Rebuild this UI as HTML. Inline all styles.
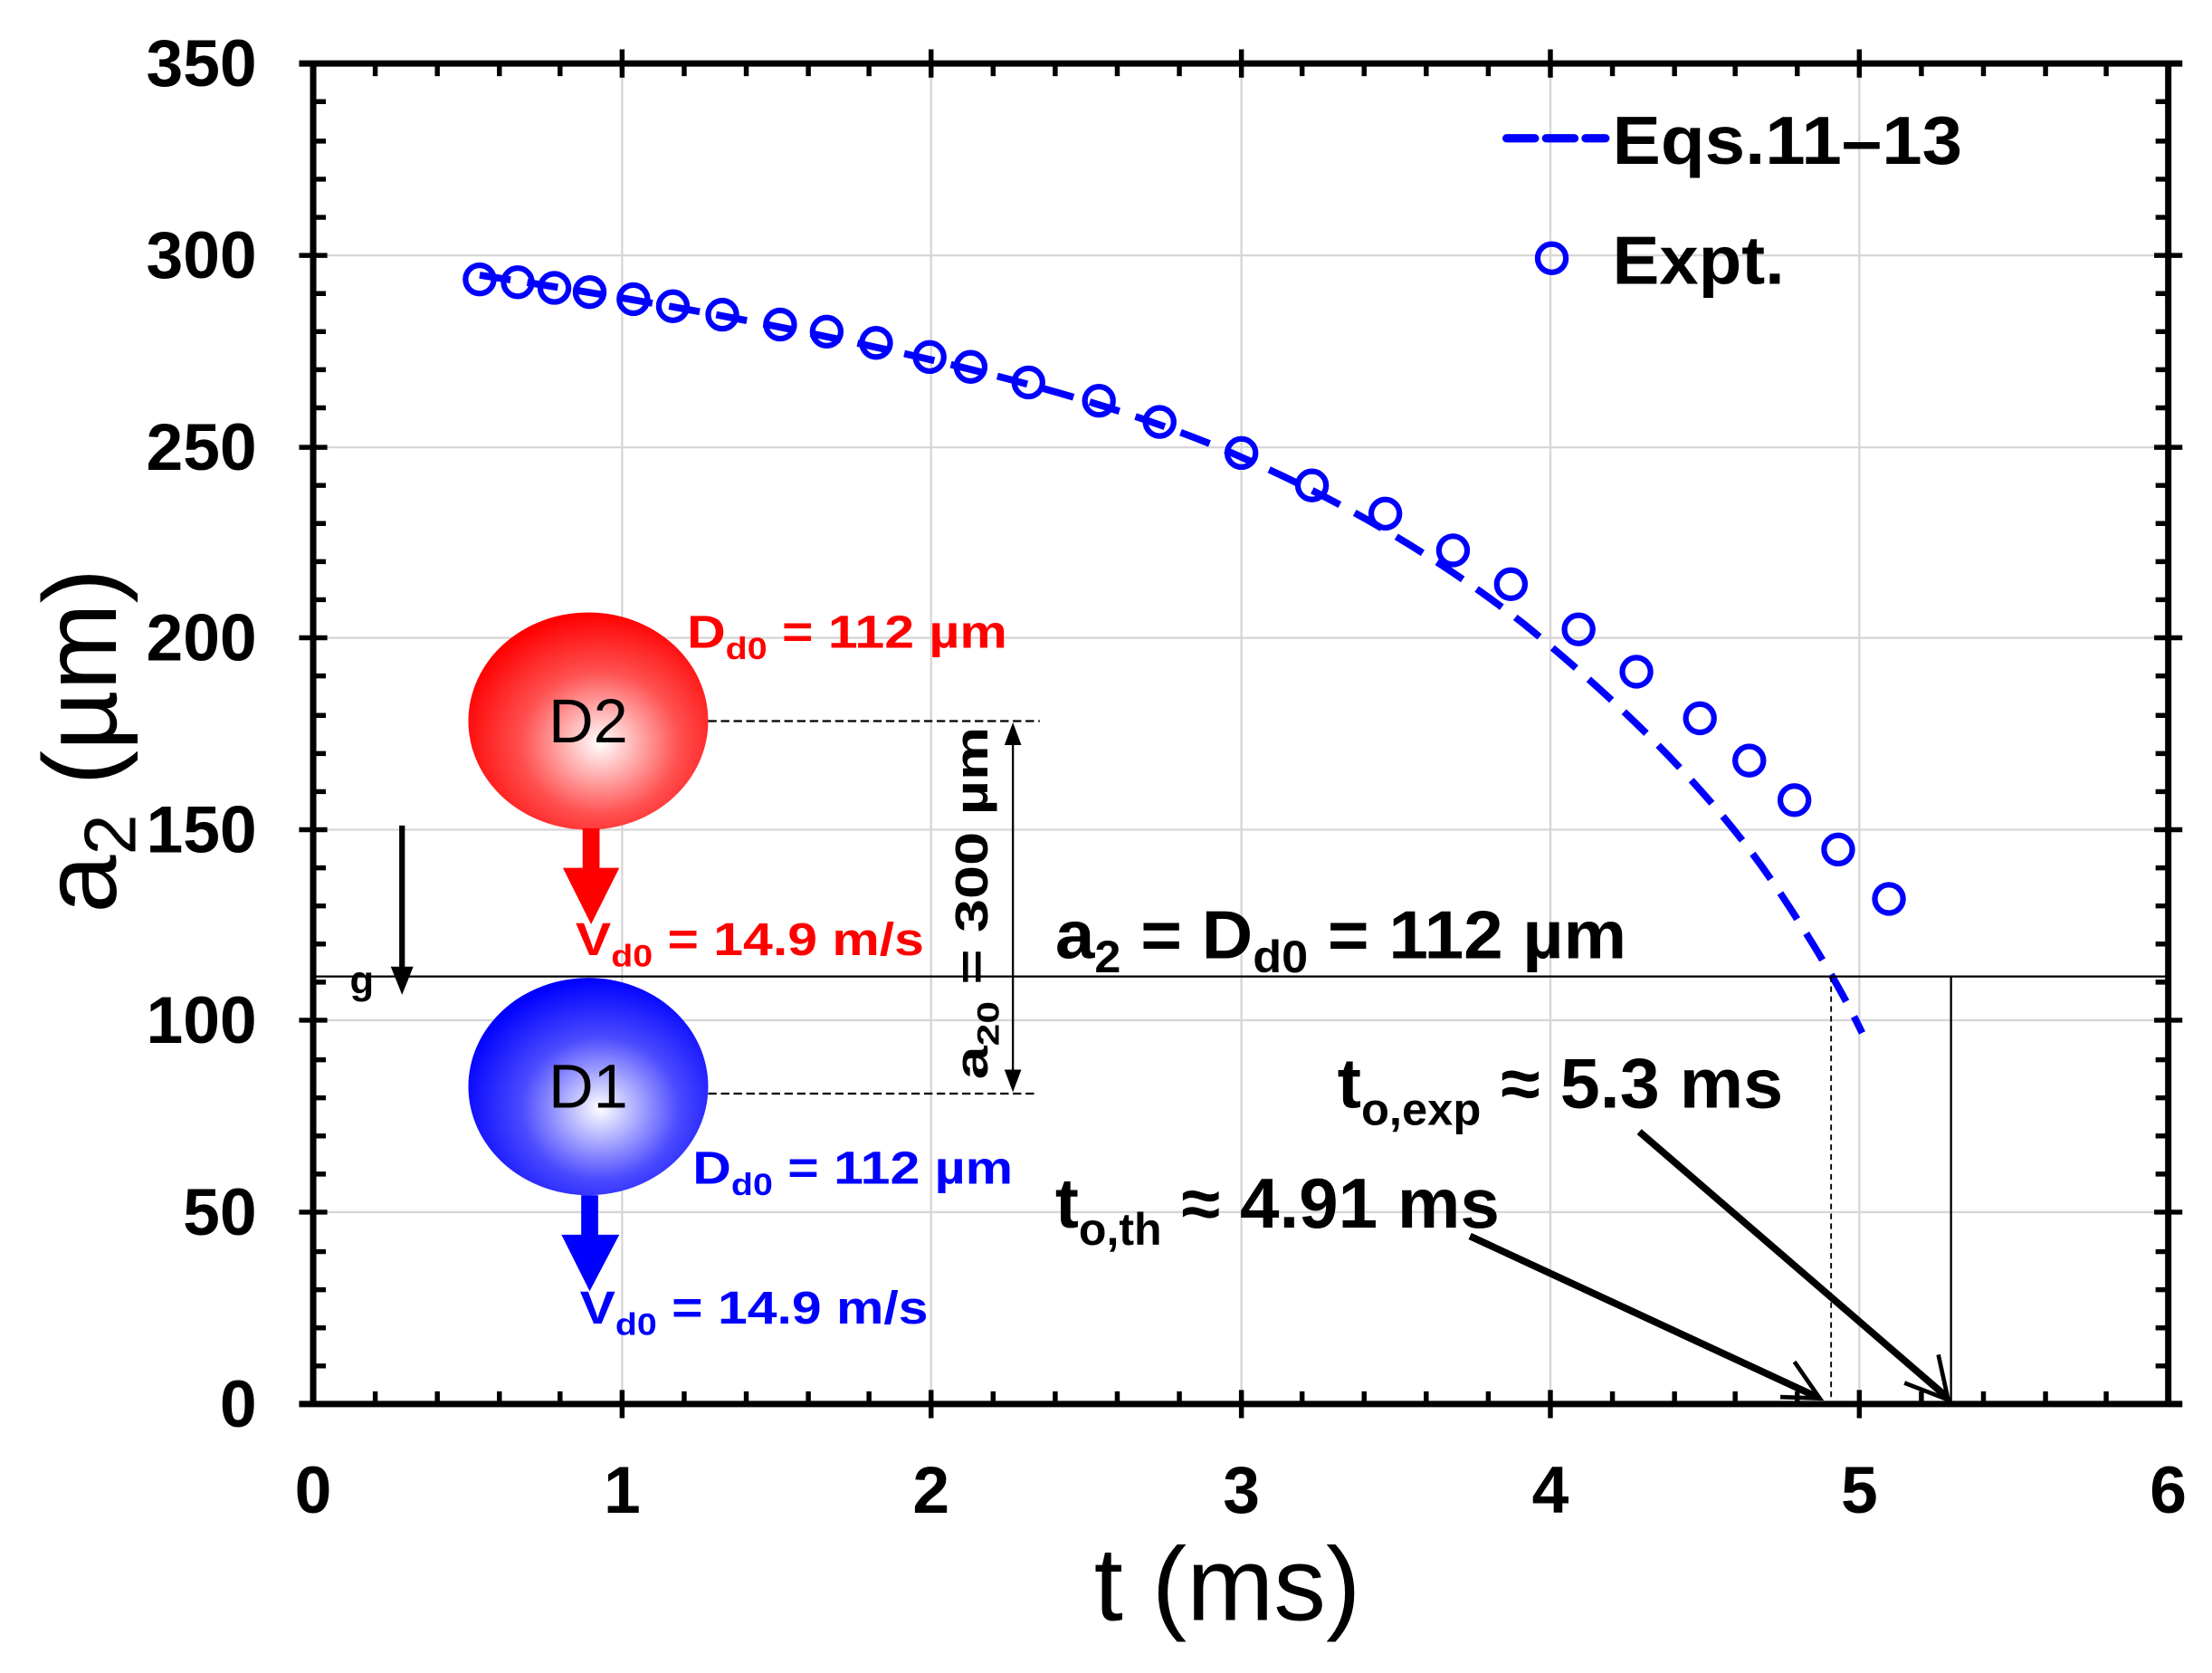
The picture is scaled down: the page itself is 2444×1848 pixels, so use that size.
<!DOCTYPE html>
<html><head><meta charset="utf-8"><style>html,body{margin:0;padding:0;background:#fff}svg{display:block}</style></head>
<body>
<svg width="2444" height="1848" viewBox="0 0 1568 1185.6" preserveAspectRatio="none" xmlns="http://www.w3.org/2000/svg" font-family="Liberation Sans, Arial, sans-serif">
<defs>
<radialGradient id="rg" cx="0.55" cy="0.6" r="0.6"><stop offset="0" stop-color="#fff"/><stop offset="0.55" stop-color="#ff5050"/><stop offset="1" stop-color="#ff0000"/></radialGradient>
<radialGradient id="bg" cx="0.55" cy="0.6" r="0.6"><stop offset="0" stop-color="#fff"/><stop offset="0.55" stop-color="#4a4aff"/><stop offset="1" stop-color="#0000ff"/></radialGradient>
</defs>
<g stroke="#d6d6d6" stroke-width="1.5">
<line x1="441" y1="45" x2="441" y2="995"/><line x1="660" y1="45" x2="660" y2="995"/><line x1="880" y1="45" x2="880" y2="995"/><line x1="1099" y1="45" x2="1099" y2="995"/><line x1="1318" y1="45" x2="1318" y2="995"/>
<line x1="222" y1="859" x2="1537" y2="859"/><line x1="222" y1="723" x2="1537" y2="723"/><line x1="222" y1="588" x2="1537" y2="588"/><line x1="222" y1="452" x2="1537" y2="452"/><line x1="222" y1="317" x2="1537" y2="317"/><line x1="222" y1="181" x2="1537" y2="181"/>
</g>
<g stroke="#000" stroke-width="3.5" fill="none">
<path d="M222 995V45 M1537 995V45 M212 45H1547 M212 995H1547" stroke-width="4.5"/>
<path d="M222 968h9M222 941h9M222 914h9M222 887h9M222 832h9M222 805h9M222 778h9M222 751h9M222 696h9M222 669h9M222 642h9M222 615h9M222 561h9M222 534h9M222 507h9M222 479h9M222 425h9M222 398h9M222 371h9M222 344h9M222 289h9M222 262h9M222 235h9M222 208h9M222 154h9M222 127h9M222 100h9M222 72h9"/>
<path d="M1537 968h-9M1537 941h-9M1537 914h-9M1537 887h-9M1537 832h-9M1537 805h-9M1537 778h-9M1537 751h-9M1537 696h-9M1537 669h-9M1537 642h-9M1537 615h-9M1537 561h-9M1537 534h-9M1537 507h-9M1537 479h-9M1537 425h-9M1537 398h-9M1537 371h-9M1537 344h-9M1537 289h-9M1537 262h-9M1537 235h-9M1537 208h-9M1537 154h-9M1537 127h-9M1537 100h-9M1537 72h-9"/>
<path d="M212 859h20M212 723h20M212 588h20M212 452h20M212 317h20M212 181h20M1527 859h20M1527 723h20M1527 588h20M1527 452h20M1527 317h20M1527 181h20"/>
<path d="M266 995v-9M310 995v-9M354 995v-9M397 995v-9M485 995v-9M529 995v-9M573 995v-9M616 995v-9M704 995v-9M748 995v-9M792 995v-9M836 995v-9M923 995v-9M967 995v-9M1011 995v-9M1055 995v-9M1143 995v-9M1187 995v-9M1230 995v-9M1274 995v-9M1362 995v-9M1406 995v-9M1450 995v-9M1493 995v-9"/>
<path d="M266 45v9M310 45v9M354 45v9M397 45v9M485 45v9M529 45v9M573 45v9M616 45v9M704 45v9M748 45v9M792 45v9M836 45v9M923 45v9M967 45v9M1011 45v9M1055 45v9M1143 45v9M1187 45v9M1230 45v9M1274 45v9M1362 45v9M1406 45v9M1450 45v9M1493 45v9"/>
<path d="M441 985v20M660 985v20M880 985v20M1099 985v20M1318 985v20M441 35v20M660 35v20M880 35v20M1099 35v20M1318 35v20"/>
</g>
<g font-size="47" font-weight="bold" text-anchor="end">
<text x="182" y="1011">0</text><text x="182" y="875">50</text><text x="182" y="739">100</text><text x="182" y="604">150</text><text x="182" y="468">200</text><text x="182" y="333">250</text><text x="182" y="197">300</text><text x="182" y="61">350</text>
</g>
<g font-size="47" font-weight="bold" text-anchor="middle">
<text x="222" y="1072">0</text><text x="441" y="1072">1</text><text x="660" y="1072">2</text><text x="880" y="1072">3</text><text x="1099" y="1072">4</text><text x="1318" y="1072">5</text><text x="1537" y="1072">6</text>
</g>
<text x="870" y="1148" font-size="74" text-anchor="middle">t (ms)</text>
<text transform="translate(82,525) rotate(-90)" font-size="74" text-anchor="middle">a<tspan font-size="52" dy="14">2</tspan><tspan dy="-14"> (µm)</tspan></text>
<path d="M340 195 Q520 222 660 255 T880 324 Q990 372 1080 442 Q1200 540 1260 630 Q1300 690 1320 732" fill="none" stroke="#0000ff" stroke-width="5" stroke-dasharray="22 12"/>
<g fill="none" stroke="#0000ff" stroke-width="4">
<circle cx="340" cy="198" r="10"/><circle cx="367" cy="200" r="10"/><circle cx="393" cy="204" r="10"/><circle cx="418" cy="207" r="10"/><circle cx="449" cy="212" r="10"/><circle cx="477" cy="217" r="10"/><circle cx="512" cy="223" r="10"/><circle cx="553" cy="230" r="10"/><circle cx="586" cy="235" r="10"/><circle cx="621" cy="243" r="10"/><circle cx="659" cy="253" r="10"/><circle cx="688" cy="260" r="10"/><circle cx="729" cy="271" r="10"/><circle cx="779" cy="284" r="10"/><circle cx="822" cy="299" r="10"/><circle cx="880" cy="321" r="10"/><circle cx="930" cy="344" r="10"/><circle cx="982" cy="364" r="10"/><circle cx="1030" cy="390" r="10"/><circle cx="1071" cy="414" r="10"/><circle cx="1119" cy="446" r="10"/><circle cx="1160" cy="476" r="10"/><circle cx="1205" cy="509" r="10"/><circle cx="1240" cy="539" r="10"/><circle cx="1272" cy="567" r="10"/><circle cx="1303" cy="602" r="10"/><circle cx="1339" cy="637" r="10"/>
<circle cx="1100" cy="183" r="10"/>
</g>
<path d="M1068 98H1138" stroke="#0000ff" stroke-width="6" stroke-dasharray="20 8" stroke-linecap="round"/>
<text x="1143" y="116" font-size="48" font-weight="bold" textLength="248" lengthAdjust="spacingAndGlyphs">Eqs.11–13</text>
<text x="1143" y="201" font-size="48" font-weight="bold" textLength="122" lengthAdjust="spacingAndGlyphs">Expt.</text>
<line x1="222" y1="692" x2="1537" y2="692" stroke="#000" stroke-width="1.5"/>
<line x1="1298" y1="692" x2="1298" y2="995" stroke="#000" stroke-width="1.2" stroke-dasharray="4 3"/>
<line x1="1383" y1="692" x2="1383" y2="995" stroke="#000" stroke-width="1.5"/>
<g stroke="#000" stroke-width="5" fill="none">
<path d="M1042 876L1288 990"/><path d="M1162 802L1380 990"/>
<path d="M1262 990L1290 991L1272 965" stroke-width="3"/><path d="M1350 980L1381 992L1374 960" stroke-width="3"/>
</g>
<text x="748" y="679" font-size="48" font-weight="bold" textLength="405" lengthAdjust="spacingAndGlyphs">a<tspan font-size="32" dy="10">2</tspan><tspan dy="-10"> = D</tspan><tspan font-size="32" dy="10">d0</tspan><tspan dy="-10"> = 112 µm</tspan></text>
<text x="948" y="785" font-size="50" font-weight="bold" textLength="316" lengthAdjust="spacingAndGlyphs">t<tspan font-size="32" dy="12">o,exp</tspan><tspan dy="-12"> ≈ 5.3 ms</tspan></text>
<text x="748" y="870" font-size="50" font-weight="bold" textLength="315" lengthAdjust="spacingAndGlyphs">t<tspan font-size="32" dy="12">o,th</tspan><tspan dy="-12"> ≈ 4.91 ms</tspan></text>
<ellipse cx="417" cy="511" rx="85" ry="77" fill="url(#rg)"/>
<ellipse cx="417" cy="770" rx="85" ry="77" fill="url(#bg)"/>
<text x="417" y="526" font-size="44" text-anchor="middle">D2</text>
<text x="417" y="785" font-size="44" text-anchor="middle">D1</text>
<path d="M413 587h12v28h14l-20 40l-20-40h14z" fill="#ff0000"/>
<path d="M412 847h12v28h15l-21 40l-20-40h14z" fill="#0000ff"/>
<g font-size="33" font-weight="bold">
<text x="487" y="459" fill="#ff0000" textLength="227" lengthAdjust="spacingAndGlyphs">D<tspan font-size="22" dy="8">d0</tspan><tspan dy="-8"> = 112 µm</tspan></text>
<text x="408" y="677" fill="#ff0000" textLength="247" lengthAdjust="spacingAndGlyphs">V<tspan font-size="22" dy="8">d0</tspan><tspan dy="-8"> = 14.9 m/s</tspan></text>
<text x="491" y="839" fill="#0000ff" textLength="227" lengthAdjust="spacingAndGlyphs">D<tspan font-size="22" dy="8">d0</tspan><tspan dy="-8"> = 112 µm</tspan></text>
<text x="411" y="938" fill="#0000ff" textLength="247" lengthAdjust="spacingAndGlyphs">V<tspan font-size="22" dy="8">d0</tspan><tspan dy="-8"> = 14.9 m/s</tspan></text>
</g>
<g stroke="#000" stroke-width="1.5" fill="none">
<line x1="502" y1="511" x2="737" y2="511" stroke-dasharray="6 3"/>
<line x1="502" y1="775" x2="735" y2="775" stroke-dasharray="6 3"/>
<line x1="718" y1="515" x2="718" y2="771"/>
</g>
<path d="M718 512l-6 16h12z M718 774l-6-16h12z" fill="#000"/>
<text transform="translate(700,640) rotate(-90)" font-size="33" font-weight="bold" text-anchor="middle" textLength="250" lengthAdjust="spacingAndGlyphs">a<tspan font-size="22" dy="8">20</tspan><tspan dy="-8"> = 300 µm</tspan></text>
<line x1="285" y1="585" x2="285" y2="690" stroke="#000" stroke-width="4"/>
<path d="M285 705l-8-20h16z" fill="#000"/>
<text x="248" y="704" font-size="28" font-weight="bold">g</text>
</svg>
</body></html>
